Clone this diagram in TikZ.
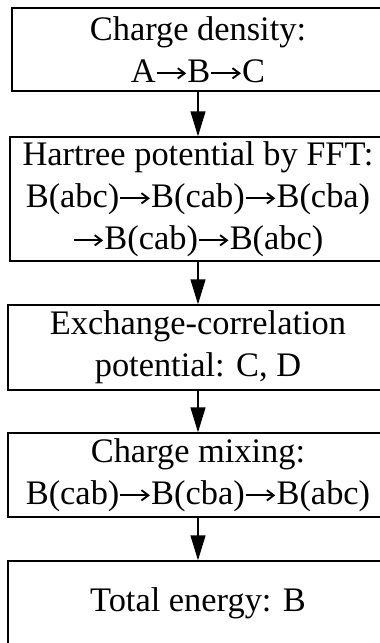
\documentclass[tikz,border=0pt]{standalone}
\usepackage{fontspec}
\setmainfont{Liberation Serif}
\usetikzlibrary{arrows.meta}
\newcommand{\rarr}{\tikz[baseline=-0.26em]\draw[black,line width=0.055em,-{Straight Barb[length=0.2em,width=0.3em]}] (0,0) -- (0.86em,0);}
\begin{document}
\begin{tikzpicture}[x=1pt,y=1pt,
  flowbox/.style={draw=black, line width=1.4pt, inner sep=0pt, align=center,
    font=\fontsize{34.4pt}{42pt}\selectfont, text=black},
  flowarrow/.style={line width=1.4pt, -{Triangle[length=25pt,width=15pt]}}]
\useasboundingbox (0,0) rectangle (380,-643);
\node[flowbox, minimum width=372pt, minimum height=83pt] (b1) at (198,-49.5) {Charge density:\\A\rarr B\rarr C};
\node[flowbox, minimum width=376pt, minimum height=124pt] (b2) at (198,-199) {Hartree potential by FFT:\\B(abc)\rarr B(cab)\rarr B(cba)\\\rarr B(cab)\rarr B(abc)};
\node[flowbox, minimum width=380pt, minimum height=85pt] (b3) at (198,-347.5) {Exchange-correlation\\potential: C, D};
\node[flowbox, minimum width=380pt, minimum height=84pt] (b4) at (198,-475) {Charge mixing:\\B(cab)\rarr B(cba)\rarr B(abc)};
\node[flowbox, minimum width=380pt, minimum height=85pt] (b5) at (198,-603.5) {Total energy: B};
\draw[flowarrow] (b1.south) -- (b2.north);
\draw[flowarrow] (b2.south) -- (b3.north);
\draw[flowarrow] (b3.south) -- (b4.north);
\draw[flowarrow] (b4.south) -- (b5.north);
\end{tikzpicture}
\end{document}
